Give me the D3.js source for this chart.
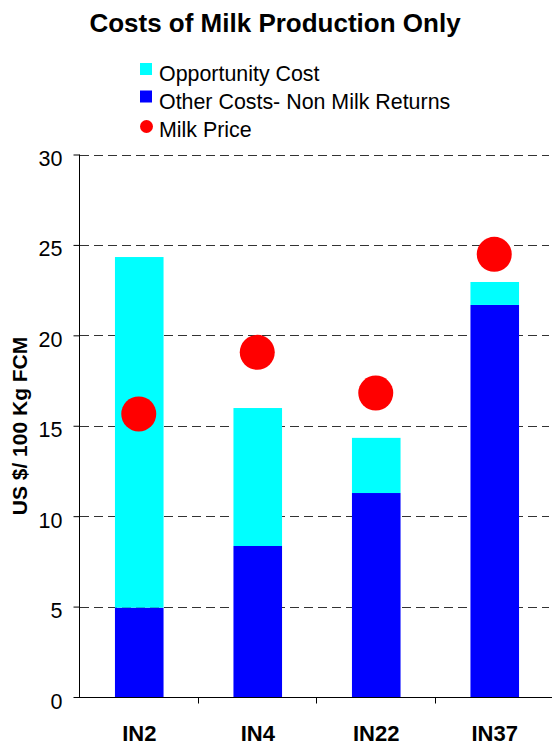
<!DOCTYPE html>
<html>
<head>
<meta charset="utf-8">
<script src="https://cdn.jsdelivr.net/npm/d3@7"></script>
<style>
  html, body { margin: 0; padding: 0; background: #fff; }
  svg { display: block; }
  text { font-family: Arial, "Liberation Sans", sans-serif; fill: #000; }
</style>
</head>
<body>
<svg id="chart" width="552" height="749"></svg>
<script>
const categories = ["IN2", "IN4", "IN22", "IN37"];
const otherCosts = [4.94, 8.35, 11.28, 21.68];
const opportunityCost = [19.39, 7.63, 3.05, 1.27];
const milkPrice = [15.65, 19.06, 16.81, 24.48];
const yTicks = [0, 5, 10, 15, 20, 25, 30];
const seriesNames = ["Opportunity Cost", "Other Costs- Non Milk Returns", "Milk Price"];
const colors = { other: "#0000ff", opp: "#00ffff", milk: "#ff0000" };

const svg = d3.select("#chart");

const x = d3.scaleBand().domain(categories).range([80, 554]).padding(0);
const y = d3.scaleLinear().domain([0, 30]).range([697, 154.5]);
const barW = x.bandwidth() * 0.41;

// title
svg.append("text")
  .attr("x", 275).attr("y", 32)
  .attr("text-anchor", "middle")
  .style("font-size", "26px").style("font-weight", "bold")
  .text("Costs of Milk Production Only");

// legend
const legend = svg.append("g");
legend.append("rect").attr("x", 140).attr("y", 63).attr("width", 12).attr("height", 12).attr("fill", colors.opp);
legend.append("rect").attr("x", 140).attr("y", 90.5).attr("width", 12).attr("height", 12).attr("fill", colors.other);
legend.append("circle").attr("cx", 146.5).attr("cy", 126.5).attr("r", 6.5).attr("fill", colors.milk);
[81, 108.5, 136.5].forEach((yy, i) => {
  legend.append("text").attr("x", 159).attr("y", yy)
    .style("font-size", "21.4px").text(seriesNames[i]);
});

// gridlines
svg.append("g")
  .selectAll("line")
  .data(yTicks.filter(d => d > 0))
  .join("line")
  .attr("x1", 80).attr("x2", 549)
  .attr("y1", d => Math.round(y(d)) + 0.5).attr("y2", d => Math.round(y(d)) + 0.5)
  .attr("stroke", "#333").attr("stroke-width", 1.2)
  .attr("stroke-dasharray", "9,5");

// stacked bars
const rows = categories.map((c, i) => ({ cat: c, other: otherCosts[i], opp: opportunityCost[i] }));
const stack = d3.stack().keys(["other", "opp"])(rows);
svg.append("g")
  .selectAll("g")
  .data(stack)
  .join("g")
  .attr("fill", d => colors[d.key])
  .selectAll("rect")
  .data(d => d)
  .join("rect")
  .attr("x", d => x(d.data.cat) + (x.bandwidth() - barW) / 2)
  .attr("width", barW)
  .attr("y", d => y(d[1]))
  .attr("height", d => y(d[0]) - y(d[1]));

// milk price dots
svg.append("g")
  .selectAll("circle")
  .data(categories.map((c, i) => ({ cat: c, v: milkPrice[i] })))
  .join("circle")
  .attr("cx", d => x(d.cat) + x.bandwidth() / 2 - 0.5)
  .attr("cy", d => y(d.v))
  .attr("r", 17.5)
  .attr("fill", colors.milk);

// y axis
const yAxis = svg.append("g")
  .attr("transform", "translate(79.5,0)")
  .call(d3.axisLeft(y).tickValues(yTicks).tickSize(6).tickPadding(11).tickFormat(d3.format("d")));
yAxis.select(".domain").attr("stroke", "#000").attr("d", `M0,${y(30)}V${y(0)}`);
yAxis.selectAll(".tick line").attr("stroke", "#000");
yAxis.selectAll(".tick text")
  .attr("dy", null).attr("y", 11)
  .style("font-size", "21.5px").style("font-family", "Arial, 'Liberation Sans', sans-serif").attr("fill", "#000");

// x axis
const xAxisG = svg.append("g").attr("transform", "translate(0,697.5)");
xAxisG.append("line").attr("x1", 79).attr("x2", 552).attr("stroke", "#000");
xAxisG.selectAll(".xt")
  .data(categories.slice(1))
  .join("line")
  .attr("x1", d => Math.round(x(d)) - 0.5).attr("x2", d => Math.round(x(d)) - 0.5)
  .attr("y1", 0).attr("y2", 6).attr("stroke", "#000");
xAxisG.selectAll(".xl")
  .data(categories)
  .join("text")
  .attr("x", d => x(d) + x.bandwidth() / 2)
  .attr("y", 43.5)
  .attr("text-anchor", "middle")
  .style("font-size", "22px").style("font-weight", "bold")
  .text(d => d);

// y axis title
svg.append("text")
  .attr("transform", "translate(27,426) rotate(-90)")
  .attr("text-anchor", "middle")
  .style("font-size", "21px").style("font-weight", "bold")
  .text("US $/ 100 Kg FCM");
</script>
</body>
</html>
